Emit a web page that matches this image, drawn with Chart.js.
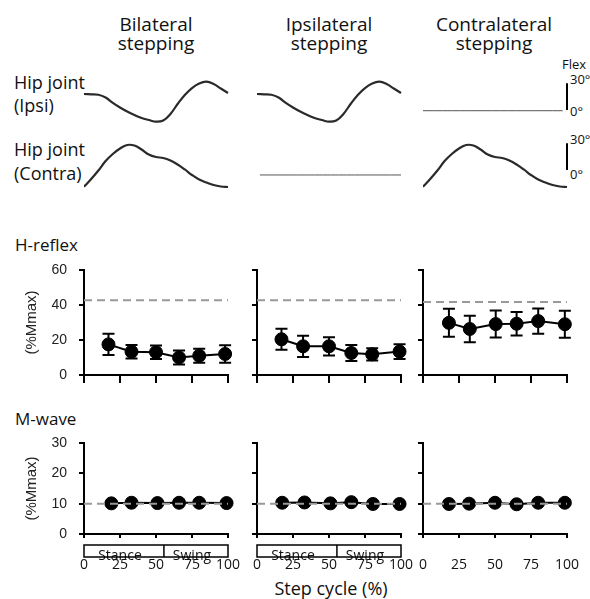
<!DOCTYPE html>
<html>
<head>
<meta charset="utf-8">
<script src="https://cdn.jsdelivr.net/npm/chart.js@4.4.1/dist/chart.umd.min.js"></script>
<style>
  body { margin: 0; background: #fff; }
  #fig { position: relative; width: 590px; height: 599px; overflow: hidden; color: #111; }
  #fig canvas { position: absolute; }
  .t { position: absolute; white-space: nowrap; line-height: 1; font-family: 'Open Sans', sans-serif; }
</style>
</head>
<body>
<div id="fig"></div>
<script>
// column headers
const conditions = [['Bilateral', 'stepping'], ['Ipsilateral', 'stepping'], ['Contralateral', 'stepping']];
const stepTicks = [0, 25, 50, 75, 100];
const phaseNames = ['Stance', 'Swing'];
const phaseBounds = [0, 55.5, 100];

// hip joint angle (deg, flexion up), every 5 % of the step cycle
const traceX = [0, 5, 10, 15, 20, 25, 30, 35, 40, 45, 50, 55, 60, 65, 70, 75, 80, 85, 90, 95, 100];
const hipIpsi = [18.0, 17.6, 17.1, 14.0, 8.0, 2.8, -1.7, -5.6, -9.0, -11.2, -13.1, -11.8, -4.5, 6.7, 16.9, 24.7, 29.8, 31.8, 29.2, 24.2, 19.1];
const hipContra = [-18.8, -10.1, -0.6, 10.1, 18.0, 24.2, 28.1, 27.5, 23.0, 17.4, 14.6, 13.5, 10.7, 6.2, 0.6, -5.6, -10.7, -14.0, -16.9, -18.5, -19.1];
// limb held still
const ipsiStillX = [0, 97];
const ipsiStill = [-0.8, -0.8];
const contraStillX = [2, 100];
const contraStill = [-5.6, -5.6];
const scaleBarDeg = 30;

// H-reflex (%Mmax), mean and error per step-cycle bin
const hBiX = [17, 33, 50, 66, 80, 98];
const hBiMean = [17.5, 13.3, 13.0, 10.0, 11.0, 12.0];
const hBiSE = [6.1, 3.8, 3.8, 4.0, 4.0, 5.0];
const hIpX = [17, 32, 50, 65.5, 80, 99];
const hIpMean = [20.4, 16.4, 16.4, 12.6, 11.8, 13.4];
const hIpSE = [6.0, 6.1, 5.2, 4.6, 3.5, 4.2];
const hCoX = [18, 32.5, 50.5, 65, 80, 98.5];
const hCoMean = [29.8, 26.3, 29.1, 29.3, 30.8, 29.0];
const hCoSE = [8.0, 7.6, 7.7, 6.7, 7.2, 7.7];
const hBaseline = [42.7, 42.7, 41.7];

// M-wave (%Mmax)
const mBiX = [19, 33, 51, 66, 80, 99];
const mBiMean = [10.1, 10.3, 10.2, 10.3, 10.3, 10.2];
const mBiSE = [0.5, 0.5, 0.5, 0.5, 0.5, 0.5];
const mIpX = [17.5, 33, 51, 65.5, 80.5, 99];
const mIpMean = [10.3, 10.4, 10.1, 10.5, 9.9, 9.9];
const mIpSE = [0.5, 0.5, 0.5, 0.5, 0.5, 0.5];
const mCoX = [18, 32, 50, 65, 80, 98.5];
const mCoMean = [9.9, 10.0, 10.3, 9.8, 10.3, 10.3];
const mCoSE = [0.5, 0.5, 0.5, 0.5, 0.5, 0.5];
const mBaseline = [10, 10, 10];

const fig = document.getElementById('fig');
const axisLeft = [84, 257, 423];
const plotW = 144;
const yAxisW = 84;
const padR = 40;
const degPx = 26.7 / 30;

function addCanvas(left, top, w, h) {
  const c = document.createElement('canvas');
  c.width = w; c.height = h;
  c.style.left = left + 'px'; c.style.top = top + 'px';
  c.style.width = w + 'px'; c.style.height = h + 'px';
  fig.appendChild(c);
  return c;
}

function text(str, x, baseline, size, opts = {}) {
  const d = document.createElement('div');
  d.className = 't';
  d.textContent = str;
  d.style.fontSize = size + 'px';
  d.style.top = (baseline - 0.888 * size) + 'px';
  d.style.left = x + 'px';
  if (opts.center) d.style.transform = 'translateX(-50%)';
  fig.appendChild(d);
}

const pts = (xs, ys) => xs.map((x, k) => ({ x: x, y: ys[k] }));

// nudge layout padding until the plot area sits where it should
function pinArea(ch, target) {
  for (let k = 0; k < 4; k++) {
    const a = ch.chartArea;
    const dT = target.top - a.top, dB = a.bottom - target.bottom;
    const dL = target.left - a.left, dR = a.right - target.right;
    if (Math.abs(dT) + Math.abs(dB) + Math.abs(dL) + Math.abs(dR) < 0.3) break;
    const p = ch.options.layout.padding;
    ch.options.layout.padding = { top: p.top + dT, bottom: p.bottom + dB, left: p.left + dL, right: p.right + dR };
    ch.update();
  }
}

const errorBars = {
  id: 'errorBars',
  beforeDatasetsDraw(chart) {
    const { ctx, scales: { x, y } } = chart;
    chart.data.datasets.forEach(ds => {
      if (!ds.errors) return;
      ctx.save();
      ctx.strokeStyle = '#000';
      ctx.lineWidth = 2;
      ds.data.forEach((p, k) => {
        const px = x.getPixelForValue(p.x);
        const top = y.getPixelForValue(p.y + ds.errors[k]);
        const bot = y.getPixelForValue(p.y - ds.errors[k]);
        ctx.beginPath();
        ctx.moveTo(px, top); ctx.lineTo(px, bot);
        ctx.moveTo(px - 6, top); ctx.lineTo(px + 6, top);
        ctx.moveTo(px - 6, bot); ctx.lineTo(px + 6, bot);
        ctx.stroke();
      });
      ctx.restore();
    });
  }
};

const phaseBox = {
  id: 'phaseBox',
  afterDraw(chart, args, opts) {
    if (!opts.show) return;
    const { ctx, chartArea: a, scales: { x } } = chart;
    const top = a.bottom + 11, h = 12;
    ctx.save();
    ctx.font = "14px 'Open Sans'";
    ctx.fillStyle = '#111';
    ctx.textAlign = 'center';
    ctx.textBaseline = 'alphabetic';
    phaseNames.forEach((name, k) => {
      const x0 = x.getPixelForValue(phaseBounds[k]);
      const x1 = x.getPixelForValue(phaseBounds[k + 1]);
      ctx.fillText(name, (x0 + x1) / 2 - 4, top + h + 3);
    });
    ctx.strokeStyle = '#000';
    ctx.lineWidth = 1.5;
    const xs = x.getPixelForValue(phaseBounds[0]);
    const xe = x.getPixelForValue(phaseBounds[phaseBounds.length - 1]);
    ctx.strokeRect(xs, top, xe - xs, h);
    for (let k = 1; k < phaseBounds.length - 1; k++) {
      const xm = x.getPixelForValue(phaseBounds[k]);
      ctx.beginPath(); ctx.moveTo(xm, top); ctx.lineTo(xm, top + h); ctx.stroke();
    }
    ctx.restore();
  }
};

const scaleBar = {
  id: 'scaleBar',
  afterDraw(chart, args, opts) {
    if (!opts.show) return;
    const { ctx, chartArea: a, scales: { y } } = chart;
    ctx.save();
    ctx.strokeStyle = '#000';
    ctx.lineWidth = 2;
    ctx.beginPath();
    ctx.moveTo(a.right, y.getPixelForValue(0));
    ctx.lineTo(a.right, y.getPixelForValue(scaleBarDeg));
    ctx.stroke();
    ctx.restore();
  }
};

const common = {
  responsive: false,
  maintainAspectRatio: false,
  animation: false,
  events: []
};

function traceChart(col, top, zeroY, xs, ys, still, bar) {
  const h = 70;
  const c = addCanvas(axisLeft[col], top, plotW + 30, h);
  const ch = new Chart(c, {
    type: 'line',
    data: {
      datasets: [{
        data: pts(xs, ys),
        borderColor: still ? '#555' : '#2a2a2a',
        borderWidth: still ? 1 : 2.2,
        pointRadius: 0,
        tension: 0.4,
        clip: false
      }]
    },
    options: {
      ...common,
      layout: { padding: { left: 0, right: 30, top: 0, bottom: 0 } },
      scales: {
        x: { type: 'linear', display: false, min: 0, max: 100 },
        y: { display: false, min: -(top + h - zeroY) / degPx, max: (zeroY - top) / degPx }
      },
      plugins: { legend: { display: false }, tooltip: { enabled: false }, scaleBar: { show: bar } }
    },
    plugins: [scaleBar]
  });
  pinArea(ch, { left: 0, right: plotW, top: 0, bottom: h });
}

function dataChart(col, top, h, padTop, xAxisH, ymax, step, xs, mean, se, base, opt) {
  const c = addCanvas(axisLeft[col] - yAxisW, top, yAxisW + plotW + padR, h);
  const first = col === 0;
  const ch = new Chart(c, {
    type: 'line',
    data: {
      datasets: [{
        data: [{ x: 0, y: base }, { x: 100, y: base }],
        borderColor: '#999',
        borderWidth: 2,
        borderDash: [8, 5],
        pointRadius: 0,
        order: opt.refOnTop ? 0 : 2
      }, {
        data: pts(xs, mean),
        errors: se,
        borderColor: '#000',
        borderWidth: 2,
        pointRadius: 6.5,
        pointBorderWidth: 1,
        pointBackgroundColor: '#000',
        pointBorderColor: '#000',
        tension: 0,
        clip: false,
        order: 1
      }]
    },
    options: {
      ...common,
      layout: { padding: { left: 0, right: padR, top: padTop, bottom: 0 } },
      scales: {
        x: {
          type: 'linear', min: 0, max: 100,
          afterBuildTicks: s => { s.ticks = stepTicks.map(v => ({ value: v })); },
          afterFit: s => { s.height = xAxisH; },
          grid: { drawOnChartArea: false, drawTicks: true, tickLength: opt.xTick, color: '#000', lineWidth: 2 },
          border: { display: true, color: '#000', width: 2 },
          ticks: {
            display: opt.xLabels, padding: 19, maxRotation: 0, autoSkip: false,
            color: '#111', font: { family: "'Open Sans'", size: 14 }
          }
        },
        y: {
          min: 0, max: ymax,
          afterFit: s => { s.width = yAxisW; },
          grid: { drawOnChartArea: false, drawTicks: true, tickLength: 5, color: '#000', lineWidth: 2 },
          border: { display: true, color: '#000', width: 2 },
          ticks: {
            display: first, stepSize: step, padding: 12,
            color: '#222', font: { family: "'Liberation Sans'", size: 14, lineHeight: '2px' }
          },
          title: {
            display: first, text: '(%Mmax)', color: '#222',
            font: { family: "'Liberation Sans'", size: 15 },
            padding: { top: 23, bottom: 0 }
          }
        }
      },
      plugins: { legend: { display: false }, tooltip: { enabled: false }, phaseBox: { show: opt.phase } }
    },
    plugins: [errorBars, phaseBox]
  });
  pinArea(ch, { left: yAxisW, right: yAxisW + plotW, top: padTop, bottom: h - xAxisH });
}

// headers
const colCenters = [156, 329, 494];
conditions.forEach((lines, i) => {
  text(lines[0], colCenters[i], 31.5, 19, { center: true });
  text(lines[1], colCenters[i], 50.5, 19, { center: true });
});
text('Hip joint', 14, 89, 18);
text('(Ipsi)', 14, 112, 18);
text('Hip joint', 14, 156, 18);
text('(Contra)', 14, 180, 18);
text('Flex', 562, 70, 13);
text('30°', 570, 85, 13);
text('0°', 570, 116.5, 13);
text('30°', 570, 145, 13);
text('0°', 570, 180, 13);
text('H-reflex', 15, 251, 17);
text('M-wave', 15, 425, 17);
text('Step cycle (%)', 331, 595, 18, { center: true });

// hip traces
traceChart(0, 65, 110, traceX, hipIpsi, false, false);
traceChart(1, 65, 110, traceX, hipIpsi, false, false);
traceChart(2, 65, 110, ipsiStillX, ipsiStill, true, true);
traceChart(0, 125, 170, traceX, hipContra, false, false);
traceChart(1, 125, 170, contraStillX, contraStill, true, false);
traceChart(2, 125, 170, traceX, hipContra, false, true);

// H-reflex row
const hSets = [[hBiX, hBiMean, hBiSE], [hIpX, hIpMean, hIpSE], [hCoX, hCoMean, hCoSE]];
hSets.forEach((s, i) => dataChart(i, 255, 135, 15, 15, 60, 20, s[0], s[1], s[2], hBaseline[i],
  { xTick: 8, xLabels: false, phase: false, refOnTop: false }));

// M-wave row
const mSets = [[mBiX, mBiMean, mBiSE], [mIpX, mIpMean, mIpSE], [mCoX, mCoMean, mCoSE]];
mSets.forEach((s, i) => dataChart(i, 430, 169, 13, 65, 30, 10, s[0], s[1], s[2], mBaseline[i],
  { xTick: 4, xLabels: true, phase: i < 2, refOnTop: true }));
</script>
</body>
</html>
